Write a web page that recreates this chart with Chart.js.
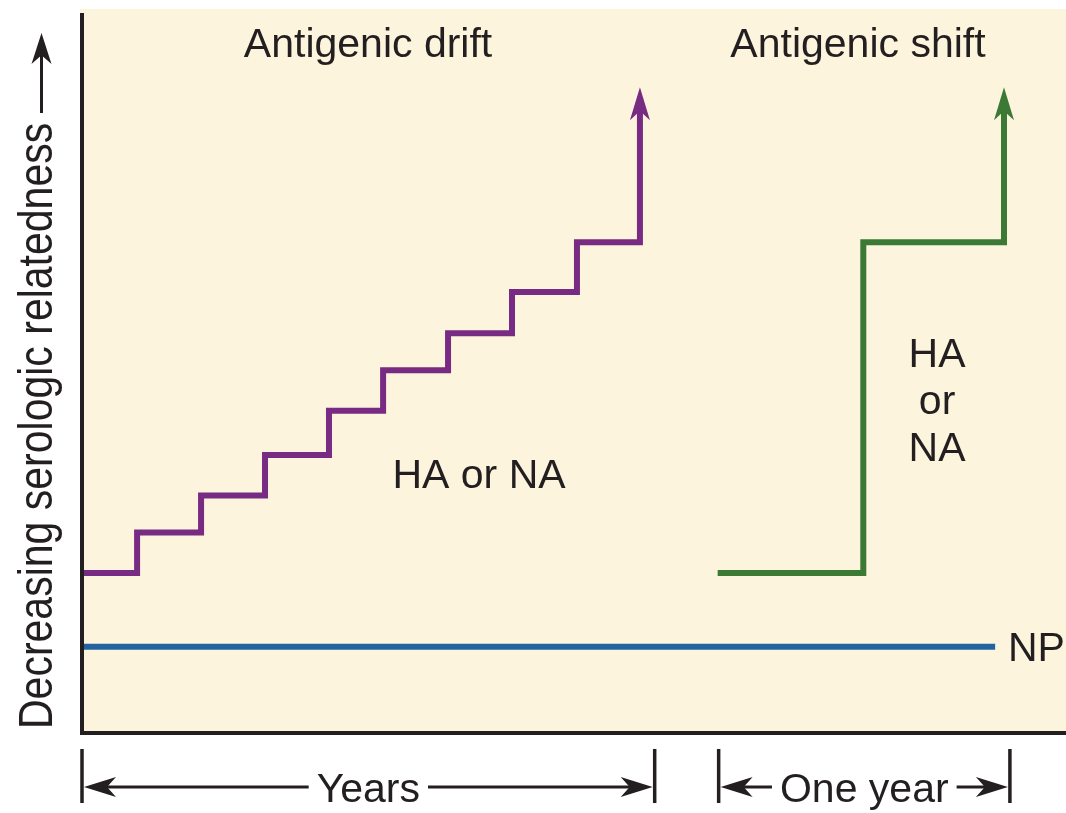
<!DOCTYPE html>
<html><head><meta charset="utf-8">
<style>html,body{margin:0;padding:0;background:#fff;}#wrap{width:1066px;height:813px;}</style>
<script src="https://cdn.jsdelivr.net/npm/chart.js@4.4.1/dist/chart.umd.min.js"></script>
</head><body><div id="wrap"><canvas id="c" width="1066" height="813"></canvas></div>
<script>
// ---- data (x: relative time, y: decreasing serologic relatedness) ----
const driftX = [0, 5.6, 12.1, 18.6, 25.1, 30.6, 37.2, 43.7, 50.3, 56.7];
const driftY = [22.1, 27.7, 32.8, 38.4, 44.5, 50.1, 55.2, 60.9, 67.8, 89.2];
const shiftX = [64.6, 79.4, 93.7];
const shiftY = [22.1, 67.8, 89.2];
const npX = [0, 92.8];
const npY = [11.9, 11.9];
const titles = ["Antigenic drift", "Antigenic shift"];
const driftLabel = "HA or NA";
const shiftLabel = ["HA", "or", "NA"];
const npLabel = "NP";
const yAxisLabel = "Decreasing serologic relatedness";
const periodLabels = ["Years", "One year"];
const periodStart = [0, 64.7];
const periodEnd = [58.2, 94.3];

const INK = '#231F20', BG = '#FDF4DE';
const PURPLE = '#772B83', GREEN = '#3B7935', BLUE = '#2263A0';
const FONT = '41px "Liberation Sans", Arial, Helvetica, sans-serif';

function pts(xs, ys) { return xs.map((x, i) => ({x, y: ys[i]})); }

function head(ctx, tx, ty, dx, dy, len, hw, notch, color) {
  const px = -dy, py = dx;
  ctx.save(); ctx.fillStyle = color; ctx.beginPath();
  ctx.moveTo(tx, ty);
  ctx.lineTo(tx - dx*len + px*hw, ty - dy*len + py*hw);
  ctx.lineTo(tx - dx*len*notch, ty - dy*len*notch);
  ctx.lineTo(tx - dx*len - px*hw, ty - dy*len - py*hw);
  ctx.closePath(); ctx.fill(); ctx.restore();
}

const deco = {
  id: 'deco',
  beforeDraw(chart) {
    const {ctx, chartArea: a} = chart;
    ctx.save(); ctx.fillStyle = BG;
    ctx.fillRect(a.left - 2, a.top, a.right - a.left + 2, a.bottom - a.top);
    ctx.restore();
  },
  afterDatasetsDraw(chart) {
    const {ctx, chartArea: a, scales: {x, y}} = chart;
    // arrow heads on drift / shift lines
    [[driftX, driftY, PURPLE], [shiftX, shiftY, GREEN]].forEach(([xs, ys, col]) => {
      const tx = x.getPixelForValue(xs[xs.length - 1]);
      const ty = y.getPixelForValue(ys[ys.length - 1]);
      ctx.save(); ctx.fillStyle = BG; ctx.fillRect(tx - 5, ty - 3, 10, 21); ctx.restore();
      head(ctx, tx, ty, 0, -1, 33, 10, 0.72, col);
    });
    // axes
    ctx.save();
    ctx.strokeStyle = INK; ctx.lineWidth = 4; ctx.lineCap = 'butt';
    ctx.beginPath(); ctx.moveTo(a.left, a.top + 4); ctx.lineTo(a.left, a.bottom + 2); ctx.stroke();
    ctx.beginPath(); ctx.moveTo(a.left - 2, a.bottom); ctx.lineTo(a.right, a.bottom); ctx.stroke();
    ctx.restore();
    // texts
    ctx.save();
    ctx.fillStyle = INK; ctx.font = FONT; ctx.textBaseline = 'alphabetic';
    ctx.textAlign = 'center';
    ctx.fillText(titles[0], x.getPixelForValue(29.07), y.getPixelForValue(93.4));
    ctx.fillText(titles[1], x.getPixelForValue(78.86), y.getPixelForValue(93.4));
    ctx.fillText(driftLabel, x.getPixelForValue(40.35), y.getPixelForValue(33.84));
    const sb = [50.55, 44.06, 37.57];
    shiftLabel.forEach((t, i) => ctx.fillText(t, x.getPixelForValue(86.9), y.getPixelForValue(sb[i])));
    ctx.textAlign = 'left';
    ctx.fillText(npLabel, x.getPixelForValue(94.1), y.getPixelForValue(9.94));
    ctx.restore();
    // y axis label + arrow
    ctx.save();
    ctx.fillStyle = INK; ctx.font = FONT; ctx.textAlign = 'left'; ctx.textBaseline = 'alphabetic';
    ctx.translate(52, 729); ctx.rotate(-Math.PI / 2); ctx.scale(1, 1.17);
    ctx.fillText(yAxisLabel, 0, 0);
    ctx.restore();
    ctx.save();
    ctx.strokeStyle = INK; ctx.lineWidth = 3;
    ctx.beginPath(); ctx.moveTo(41.5, 113); ctx.lineTo(41.5, 52); ctx.stroke();
    head(ctx, 41.5, 33, 0, -1, 31, 10, 0.72, INK);
    ctx.restore();
    // time period brackets
    ctx.save();
    ctx.strokeStyle = INK; ctx.fillStyle = INK; ctx.font = FONT;
    ctx.textAlign = 'center'; ctx.textBaseline = 'alphabetic';
    const yA = 787;
    periodLabels.forEach((lab, i) => {
      const x0 = x.getPixelForValue(periodStart[i]);
      const x1 = x.getPixelForValue(periodEnd[i]);
      ctx.lineWidth = 3.5;
      [x0, x1].forEach(xx => { ctx.beginPath(); ctx.moveTo(xx, 749); ctx.lineTo(xx, 803); ctx.stroke(); });
      const cx = (x0 + x1) / 2;
      const w = ctx.measureText(lab).width;
      ctx.lineWidth = 3;
      ctx.beginPath(); ctx.moveTo(x0 + 20, yA); ctx.lineTo(cx - w / 2 - 8, yA); ctx.stroke();
      ctx.beginPath(); ctx.moveTo(cx + w / 2 + 8, yA); ctx.lineTo(x1 - 20, yA); ctx.stroke();
      head(ctx, x0 + 2, yA, -1, 0, 32, 10, 0.72, INK);
      head(ctx, x1 - 2, yA, 1, 0, 32, 10, 0.72, INK);
      ctx.fillText(lab, cx, 802);
    });
    ctx.restore();
  }
};

const lineDs = (data, color, stepped) => ({
  data, borderColor: color, borderWidth: 6, pointRadius: 0, tension: 0,
  stepped, borderJoinStyle: 'miter', borderCapStyle: 'butt', fill: false
});

new Chart(document.getElementById('c'), {
  type: 'line',
  data: {
    datasets: [
      lineDs(pts(npX, npY), BLUE, false),
      lineDs(pts(driftX, driftY), PURPLE, 'before'),
      lineDs(pts(shiftX, shiftY), GREEN, 'before')
    ]
  },
  options: {
    responsive: false, animation: false, devicePixelRatio: 1,
    layout: {padding: {left: 82, right: 0, top: 9, bottom: 80}},
    scales: {
      x: {type: 'linear', min: 0, max: 100, display: false},
      y: {type: 'linear', min: 0, max: 100, display: false}
    },
    plugins: {legend: {display: false}, tooltip: {enabled: false}},
    elements: {line: {borderWidth: 6}},
    clip: false
  },
  plugins: [deco]
});
</script></body></html>
